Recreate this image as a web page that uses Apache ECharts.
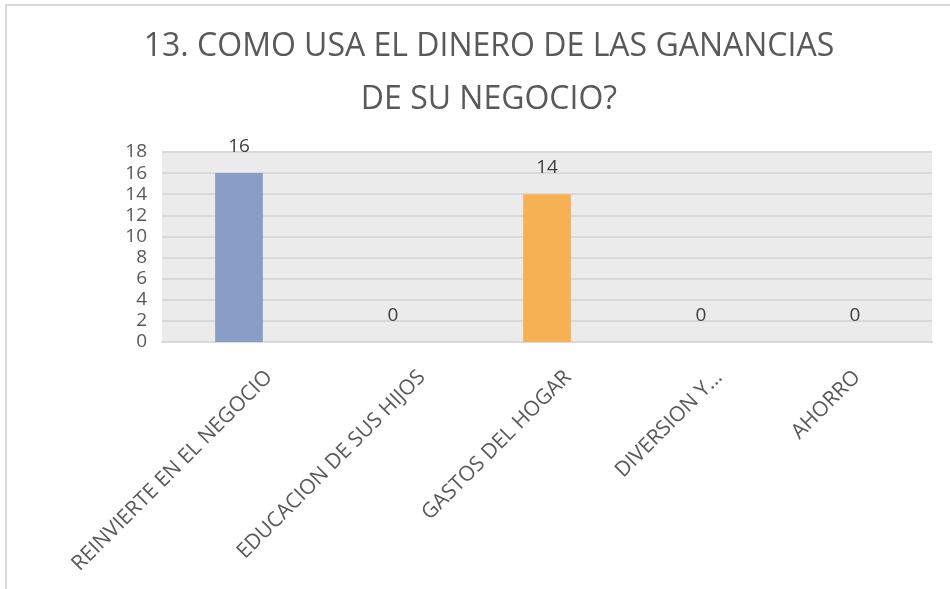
<!DOCTYPE html>
<html>
<head>
<meta charset="utf-8">
<script src="https://cdn.jsdelivr.net/npm/echarts@6/dist/echarts.min.js"></script>
<style>
  html, body { margin: 0; padding: 0; background: #fff; }
  #chart { width: 950px; height: 589px; }
</style>
</head>
<body>
<div id="chart"></div>
<script>
const categories = [
  "REINVIERTE EN EL NEGOCIO",
  "EDUCACION DE SUS HIJOS",
  "GASTOS DEL HOGAR",
  "DIVERSION Y...",
  "AHORRO"
];
const values = [16, 0, 14, 0, 0];
const barColors = ["#8a9dc7", "#8a9dc7", "#f6b155", "#8a9dc7", "#8a9dc7"];

// horizontal shift of each rotated label end, like the spreadsheet places them
const labelShift = [30, 29, 21, 18, 2];
const maxShift = 30;

const myChart = echarts.init(document.getElementById("chart"));

// split the shift into along-text / across-text parts (45 deg) and use padding
const k = Math.SQRT1_2;
const labelRich = {};
labelShift.forEach((dx, i) => {
  labelRich["s" + i] = {
    fontSize: 21,
    fontFamily: "Open Sans",
    color: "#595959",
    padding: [2 * k * (dx + maxShift), k * (maxShift - dx), 0, 0]
  };
});

const option = {
  backgroundColor: "#ffffff",
  textStyle: { fontFamily: "Open Sans" },
  title: {
    text: "13. COMO USA EL DINERO DE LAS GANANCIAS\nDE SU NEGOCIO?",
    left: 484,
    top: 15,
    textAlign: "center",
    textStyle: {
      fontFamily: "Open Sans",
      fontSize: 32,
      fontWeight: "normal",
      color: "#595959",
      lineHeight: 53
    }
  },
  graphic: [
    {
      type: "rect",
      shape: { x: 6, y: 5, width: 1000, height: 1000 },
      style: { fill: null, stroke: "#d9d9d9", lineWidth: 2 },
      silent: true
    }
  ],
  grid: {
    left: 162,
    right: 18,
    top: 152,
    bottom: 247,
    show: true,
    backgroundColor: "#ebebeb",
    borderWidth: 0
  },
  xAxis: {
    type: "category",
    data: categories,
    axisLine: { show: true, lineStyle: { color: "#d9d9d9", width: 2 } },
    axisTick: { show: false },
    axisLabel: {
      rotate: 45,
      margin: 2,
      interval: 0,
      fontSize: 21,
      color: "#595959",
      fontFamily: "Open Sans",
      formatter: (value, index) => "{s" + index + "|" + value + "}",
      rich: labelRich
    }
  },
  yAxis: {
    type: "value",
    min: 0,
    max: 18,
    interval: 2,
    axisLine: { show: false },
    axisTick: { show: false },
    splitLine: { lineStyle: { color: "#d9d9d9", width: 2 } },
    axisLabel: {
      margin: 15,
      fontSize: 19,
      color: "#595959",
      fontFamily: "Open Sans"
    }
  },
  series: [
    {
      type: "bar",
      barWidth: "31%",
      data: values.map((v, i) => ({
        value: v,
        itemStyle: { color: barColors[i] }
      })),
      label: {
        show: true,
        position: "top",
        distance: 17,
        fontSize: 19,
        color: "#404040",
        fontFamily: "Open Sans"
      }
    }
  ]
};

myChart.setOption(option);
</script>
</body>
</html>
